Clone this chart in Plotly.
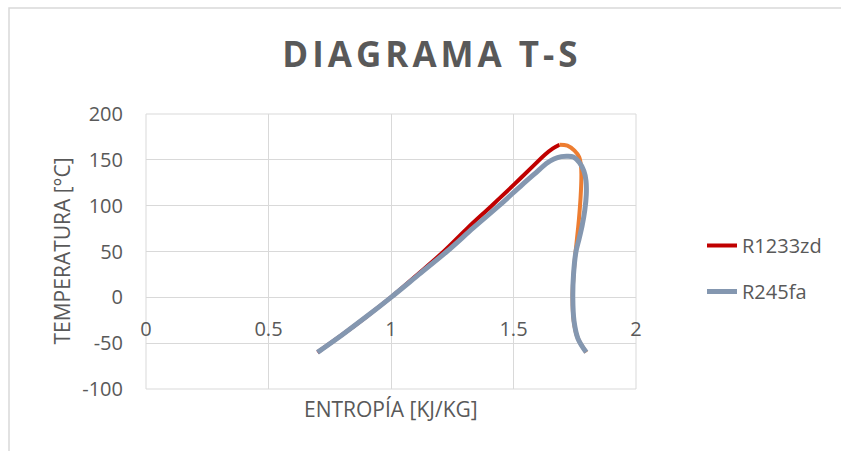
import plotly.graph_objects as go

# ---- data ----
s_r1233zd_liq = [0.70, 0.80, 0.90, 1.00, 1.10, 1.215, 1.314, 1.411, 1.506, 1.587, 1.628, 1.661, 1.688]
t_r1233zd_liq = [-60, -41, -21, 0, 23, 50, 76, 100, 124, 145, 155.5, 162.5, 166.5]

s_r1233zd_vap = [1.688, 1.72, 1.749, 1.768, 1.776, 1.777, 1.774, 1.767, 1.763, 1.756, 1.750, 1.744, 1.741, 1.746, 1.763, 1.797]
t_r1233zd_vap = [166.5, 165.5, 160, 153, 142, 130, 110, 85, 74, 56, 40, 20, 0, -26, -45, -60]

s_r245fa = [0.70, 0.80, 0.90, 1.00, 1.114, 1.228, 1.337, 1.441, 1.536, 1.60, 1.634, 1.665, 1.695, 1.72,
            1.745, 1.769, 1.787, 1.796, 1.797, 1.791, 1.780, 1.767, 1.755, 1.745, 1.742, 1.747, 1.763, 1.797]
t_r245fa = [-60, -41, -21, 0, 25, 50, 76, 100, 123, 138, 146, 151, 153.5, 154,
            153, 147, 138, 127, 112, 95, 78, 63, 50, 25, 0, -26, -45, -60]

series_names = ["R1233zd", "R245fa"]
x_ticks = [0, 0.5, 1, 1.5, 2]
x_tick_labels = ["0", "0.5", "1", "1.5", "2"]
y_ticks = [-100, -50, 0, 50, 100, 150, 200]
y_tick_labels = ["-100", "-50", "0", "50", "100", "150", "200"]

title_text = "DIAGRAMA T-S"
x_title = "ENTROPÍA [KJ/KG]"
y_title = "TEMPERATURA [°C]"

# ---- styling ----
TXT = "#595959"
GRID = "#D9D9D9"
FONT = "Open Sans"
FS = 20

W, H = 841, 451
ML, MR, MT, MB = 146, 205, 114, 62
plot_w = W - ML - MR
plot_h = H - MT - MB

fig = go.Figure()

fig.add_trace(go.Scatter(
    x=s_r1233zd_liq, y=t_r1233zd_liq, mode="lines", name=series_names[0],
    line=dict(color="#C00000", width=4, shape="spline", smoothing=1),
    legendgroup="a"))
fig.add_trace(go.Scatter(
    x=s_r1233zd_vap, y=t_r1233zd_vap, mode="lines", name=series_names[0] + " vapor",
    line=dict(color="#ED7D31", width=4, shape="spline", smoothing=1),
    showlegend=False))
fig.add_trace(go.Scatter(
    x=s_r245fa, y=t_r245fa, mode="lines", name=series_names[1],
    line=dict(color="#8497B0", width=5, shape="spline", smoothing=1),
    legendgroup="b"))

ymin, ymax = -100, 200
zero_pos = (0 - ymin) / (ymax - ymin)

fig.update_layout(
    width=W, height=H,
    margin=dict(l=ML, r=MR, t=MT, b=MB),
    paper_bgcolor="white", plot_bgcolor="white",
    font=dict(family=FONT, color=TXT, size=FS),
    title=dict(text=title_text, x=432 / W, xanchor="center",
               y=1 - 55 / H, yanchor="middle", yref="container",
               font=dict(family=FONT, size=35, color=TXT, weight="bold")),
    xaxis=dict(range=[0, 2], tickvals=x_ticks, ticktext=x_tick_labels,
               showgrid=True, gridcolor=GRID, gridwidth=1,
               zeroline=False, showline=False, ticks="",
               anchor="free", position=zero_pos,
               ticklabelstandoff=18,
               tickfont=dict(size=FS, color=TXT, family=FONT)),
    yaxis=dict(range=[ymin, ymax], tickvals=y_ticks, ticktext=y_tick_labels,
               showgrid=True, gridcolor=GRID, gridwidth=1,
               zeroline=False, showline=False, ticks="",
               ticklabelstandoff=22,
               tickfont=dict(size=FS, color=TXT, family=FONT)),
    legend=dict(x=(702 - ML) / plot_w, xanchor="left",
                y=(MT + plot_h - 226) / plot_h, yanchor="top",
                font=dict(size=FS, color=TXT, family=FONT),
                traceorder="grouped", tracegroupgap=17,
                bgcolor="rgba(0,0,0,0)"),
    showlegend=True,
)

# axis titles
fig.add_annotation(text=x_title, xref="paper", yref="paper",
                   x=0.5, y=(MT + plot_h - 409) / plot_h, xanchor="center", yanchor="middle",
                   showarrow=False, font=dict(size=21, color=TXT, family=FONT))
fig.add_annotation(text=y_title, xref="paper", yref="paper",
                   x=(61 - ML) / plot_w, y=0.5, xanchor="center", yanchor="middle",
                   textangle=-90, showarrow=False, font=dict(size=21, color=TXT, family=FONT))

# plot-area frame (edge gridlines)
fig.add_shape(type="rect", xref="x domain", yref="y domain", x0=0, x1=1, y0=0, y1=1,
              line=dict(color=GRID, width=1), fillcolor="rgba(0,0,0,0)", layer="below")

# chart border (light frame)
fig.add_shape(type="rect", xref="paper", yref="paper",
              x0=(9 - ML) / plot_w, x1=(W + 5 - ML) / plot_w,
              y0=(MT + plot_h - (H + 5)) / plot_h, y1=(MT + plot_h - 8) / plot_h,
              line=dict(color=GRID, width=1.5), fillcolor="rgba(0,0,0,0)", layer="below")

post = """
document.body.style.margin='0';
document.body.style.overflow='hidden';
var el = document.getElementById('{plot_id}');
function sp(){ el.querySelectorAll('.gtitle').forEach(function(t){ t.style.letterSpacing='4px'; }); }
sp();
el.on('plotly_afterplot', sp);
"""
fig.write_html("out.html", post_script=post, config={"displayModeBar": False})
